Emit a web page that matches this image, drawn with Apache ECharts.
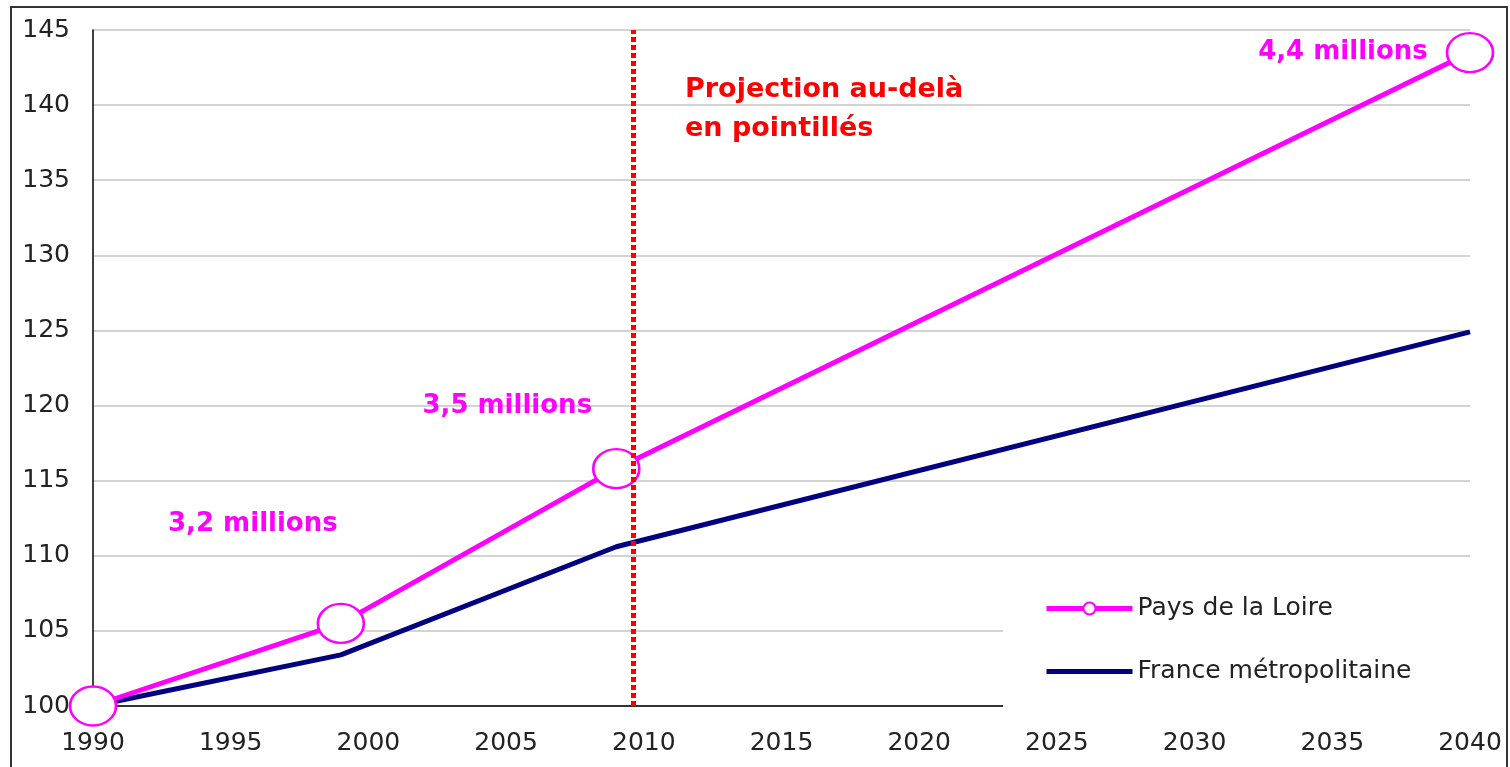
<!DOCTYPE html>
<html>
<head>
<meta charset="utf-8">
<script src="https://cdn.jsdelivr.net/npm/echarts@6/dist/echarts.min.js"></script>
<style>
  html, body { margin: 0; padding: 0; background: #fff; }
  #chart { width: 1510px; height: 767px; }
</style>
</head>
<body>
<div id="chart"></div>
<script>
// population index, base 100 in 1990
const years = [1990, 1999, 2009, 2040]
const paysDeLaLoire = [100, 105.5, 115.8, 143.5]
const franceMetro = [100, 103.4, 110.6, 124.9]
const pointLabels = ['', '3,2 millions', '3,5 millions', '4,4 millions']
const projectionYear = 2009.6
const seriesNames = ['Pays de la Loire', 'France métropolitaine']

const labelOffsets = [[0, 0], [-88, -99], [-109, -62], [-127, 0]]

const font = '"DejaVu Sans", sans-serif'
const pink = '#FF00FF'
const navy = '#000080'

const loireData = years.map((y, i) => {
  const item = { value: [y, paysDeLaLoire[i]] }
  if (pointLabels[i]) {
    item.label = {
      show: true,
      position: 'inside',
      formatter: pointLabels[i],
      offset: labelOffsets[i],
      color: pink,
      fontSize: 26,
      fontWeight: 'bold',
      fontFamily: font,
    }
  }
  return item
})

const chart = echarts.init(document.getElementById('chart'))

chart.setOption({
  animation: false,
  grid: { left: 93, right: 40, top: 30, bottom: 61, containLabel: false },
  xAxis: {
    type: 'value',
    min: 1990,
    max: 2040,
    interval: 5,
    axisLine: { show: true, lineStyle: { color: '#000', width: 1.5 } },
    axisTick: { show: false },
    splitLine: { show: false },
    axisLabel: {
      color: '#222', fontSize: 25, fontFamily: font, margin: 25,
      formatter: v => String(v),
    },
  },
  yAxis: {
    type: 'value',
    min: 100,
    max: 145,
    interval: 5,
    axisLine: { show: true, lineStyle: { color: '#000', width: 1.5 } },
    axisTick: { show: false },
    splitLine: { show: true, lineStyle: { color: '#c4c4c4', width: 1.5 } },
    axisLabel: { color: '#222', fontSize: 25, fontFamily: font, margin: 23 },
  },
  legend: {
    orient: 'vertical',
    left: 1044,
    top: 596,
    padding: 0,
    itemWidth: 86,
    itemHeight: 15,
    itemGap: 38,
    lineStyle: { width: 5 },
    textStyle: { color: '#222', fontSize: 25, fontFamily: font, padding: [0, 0, 0, 0] },
    data: [
      { name: seriesNames[0] },
      { name: seriesNames[1], itemStyle: { opacity: 0 } },
    ],
  },
  graphic: [
    {
      type: 'rect',
      silent: true,
      z: -10,
      shape: { x: 11, y: 7, width: 1496, height: 790 },
      style: { fill: 'none', stroke: '#333', lineWidth: 2 },
    },
    {
      // white panel behind the legend, hides the grid there
      type: 'rect',
      silent: true,
      z: 3,
      shape: { x: 1003, y: 580, width: 495, height: 133 },
      style: { fill: '#fff' },
    },
    {
      type: 'text',
      left: 685,
      top: 70,
      style: {
        text: 'Projection au-delà\nen pointillés',
        fill: '#FF0000',
        font: 'bold 27px ' + font,
        lineHeight: 39,
      },
    },
  ],
  series: [
    {
      name: seriesNames[1],
      type: 'line',
      symbol: 'none',
      data: years.map((y, i) => [y, franceMetro[i]]),
      lineStyle: { color: navy, width: 5 },
      itemStyle: { color: navy },
      z: 2,
      markLine: {
        silent: true,
        symbol: 'none',
        label: { show: false },
        lineStyle: { color: '#FF0000', type: [5, 3], width: 5 },
        data: [{ xAxis: projectionYear }],
      },
    },
    {
      name: seriesNames[0],
      type: 'line',
      symbol: 'circle',
      symbolSize: [46, 39],
      showAllSymbol: true,
      clip: false,
      data: loireData,
      lineStyle: { color: pink, width: 5 },
      itemStyle: { color: '#fff', borderColor: pink, borderWidth: 2.5 },
      z: 3,
    },
  ],
})
</script>
</body>
</html>
